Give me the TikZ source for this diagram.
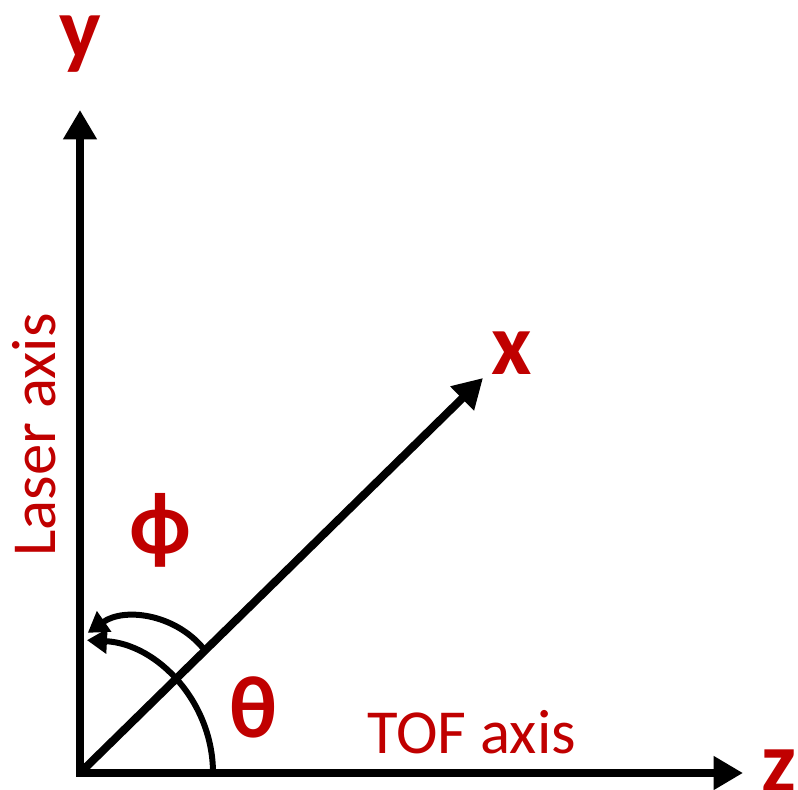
\documentclass[tikz,border=0pt]{standalone}
\usepackage{fontspec}
\setmainfont{Carlito}
\usetikzlibrary{arrows.meta}
\definecolor{labelred}{RGB}{192,0,0}
\begin{document}
\begin{tikzpicture}[x=0.75pt, y=0.75pt,
  axis/.style={line width=6pt, line cap=rect, -{Triangle[width=24pt,length=22pt]}},
  angle/.style={line width=4.5pt, -{Triangle[width=18pt,length=15pt]}},
  axislabel/.style={labelred, font=\fontsize{66}{70}\selectfont\bfseries, inner sep=0pt},
  axisname/.style={labelred, font=\fontsize{47}{50}\selectfont, inner sep=0pt}]
  % Frame
  \useasboundingbox (0,0) rectangle (798,789);

  % Axes
  \coordinate (O) at (80,16);
  \coordinate (ytip) at (80,679);
  \coordinate (xtip) at (483,411);
  \coordinate (ztip) at (743,16);
  \draw[axis] (O) -- (ytip);
  \draw[axis] (O) -- (ztip);
  \draw[axis, line cap=butt] (O) -- (xtip);

  % Angles
  \coordinate (thetastart) at (213,16);
  \coordinate (phistart) at (203,141);
  \draw[angle] (thetastart) arc[start angle=0, end angle=87, radius=133];
  \draw[angle] (phistart) arc[start angle=40, end angle=125, radius=86];

  % Axis labels
  \node[axislabel] (ylabel) at (80,745) {y};
  \node[axislabel] (xlabel) at (512,436) {x};
  \node[axislabel] (zlabel) at (779,18) {z};
  \node[axislabel] (philabel) at (160,259) {ϕ};
  \node[axislabel] (thetalabel) at (253,82) {θ};
  \node[axisname, anchor=base west] (tofname) at (367,36) {TOF axis};
  \node[axisname, rotate=90, anchor=base west] (lasername) at (55,232) {Laser axis};
\end{tikzpicture}
\end{document}
